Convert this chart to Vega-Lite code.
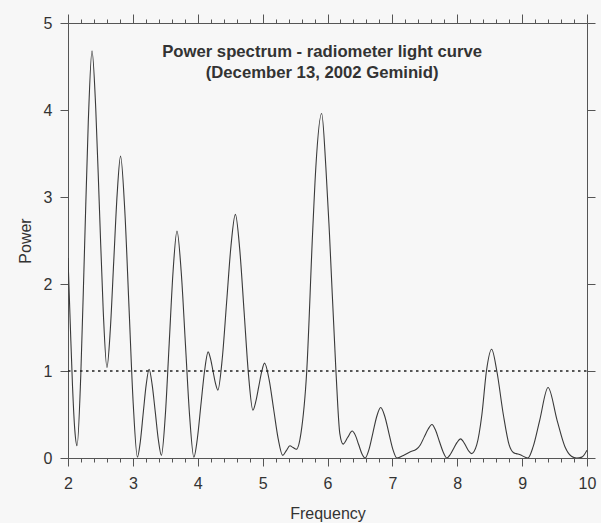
{
  "$schema": "https://vega.github.io/schema/vega-lite/v6.json",
  "width": 519,
  "height": 435,
  "padding": {"left": 17, "top": 13, "right": 5, "bottom": 5},
  "background": "#f7f7f7",
  "config": {"view": {"stroke": null}, "font": "Liberation Sans"},
  "layer": [
    {
      "data": {
        "values": [
          {"f": 2.00, "p": 2.30}, {"f": 2.035, "p": 1.54}, {"f": 2.07, "p": 0.82}, {"f": 2.105, "p": 0.32},
          {"f": 2.14, "p": 0.14}, {"f": 2.1975, "p": 0.96}, {"f": 2.255, "p": 2.41}, {"f": 2.3125, "p": 3.86},
          {"f": 2.37, "p": 4.68}, {"f": 2.4275, "p": 4.02}, {"f": 2.485, "p": 2.86}, {"f": 2.5425, "p": 1.70},
          {"f": 2.60, "p": 1.04}, {"f": 2.6525, "p": 1.48}, {"f": 2.705, "p": 2.26}, {"f": 2.7575, "p": 3.03},
          {"f": 2.81, "p": 3.47}, {"f": 2.875, "p": 2.85}, {"f": 2.94, "p": 1.74}, {"f": 3.005, "p": 0.63},
          {"f": 3.07, "p": 0.01}, {"f": 3.115, "p": 0.19}, {"f": 3.16, "p": 0.52}, {"f": 3.205, "p": 0.84},
          {"f": 3.25, "p": 1.02}, {"f": 3.2975, "p": 0.84}, {"f": 3.345, "p": 0.53}, {"f": 3.3925, "p": 0.21},
          {"f": 3.44, "p": 0.03}, {"f": 3.50, "p": 0.49}, {"f": 3.56, "p": 1.32}, {"f": 3.62, "p": 2.15},
          {"f": 3.68, "p": 2.61}, {"f": 3.745, "p": 2.14}, {"f": 3.81, "p": 1.31}, {"f": 3.875, "p": 0.48},
          {"f": 3.94, "p": 0.01}, {"f": 3.995, "p": 0.23}, {"f": 4.05, "p": 0.62}, {"f": 4.105, "p": 1.00},
          {"f": 4.16, "p": 1.22}, {"f": 4.1975, "p": 1.14}, {"f": 4.235, "p": 1.00}, {"f": 4.2725, "p": 0.86},
          {"f": 4.31, "p": 0.78}, {"f": 4.3775, "p": 1.14}, {"f": 4.445, "p": 1.79}, {"f": 4.5125, "p": 2.44},
          {"f": 4.58, "p": 2.80}, {"f": 4.6475, "p": 2.395}, {"f": 4.715, "p": 1.675}, {"f": 4.7825, "p": 0.955},
          {"f": 4.85, "p": 0.55}, {"f": 4.895, "p": 0.65}, {"f": 4.94, "p": 0.82}, {"f": 4.985, "p": 0.99},
          {"f": 5.03, "p": 1.09}, {"f": 5.10, "p": 0.90}, {"f": 5.17, "p": 0.56}, {"f": 5.24, "p": 0.22},
          {"f": 5.31, "p": 0.03}, {"f": 5.365, "p": 0.085}, {"f": 5.42, "p": 0.14}, {"f": 5.47, "p": 0.12},
          {"f": 5.52, "p": 0.10}, {"f": 5.59, "p": 0.28}, {"f": 5.68, "p": 1.00}, {"f": 5.77, "p": 2.58},
          {"f": 5.82, "p": 3.34}, {"f": 5.91, "p": 3.96}, {"f": 5.975, "p": 3.34}, {"f": 6.03, "p": 2.58},
          {"f": 6.13, "p": 1.00}, {"f": 6.19, "p": 0.28}, {"f": 6.24, "p": 0.16}, {"f": 6.31, "p": 0.235},
          {"f": 6.38, "p": 0.31}, {"f": 6.43, "p": 0.26}, {"f": 6.48, "p": 0.155}, {"f": 6.53, "p": 0.05},
          {"f": 6.58, "p": 0.00}, {"f": 6.64, "p": 0.10}, {"f": 6.70, "p": 0.29}, {"f": 6.76, "p": 0.48},
          {"f": 6.82, "p": 0.58}, {"f": 6.8825, "p": 0.48}, {"f": 6.945, "p": 0.29}, {"f": 7.0075, "p": 0.10},
          {"f": 7.07, "p": 0.00}, {"f": 7.17, "p": 0.03}, {"f": 7.27, "p": 0.07}, {"f": 7.37, "p": 0.10},
          {"f": 7.43, "p": 0.15}, {"f": 7.49, "p": 0.24}, {"f": 7.55, "p": 0.33}, {"f": 7.61, "p": 0.385},
          {"f": 7.6675, "p": 0.315}, {"f": 7.725, "p": 0.19}, {"f": 7.7825, "p": 0.07}, {"f": 7.84, "p": 0.00},
          {"f": 7.8925, "p": 0.04}, {"f": 7.945, "p": 0.11}, {"f": 7.9975, "p": 0.18}, {"f": 8.05, "p": 0.22},
          {"f": 8.0925, "p": 0.19}, {"f": 8.135, "p": 0.135}, {"f": 8.1775, "p": 0.08}, {"f": 8.22, "p": 0.05},
          {"f": 8.30, "p": 0.15}, {"f": 8.38, "p": 0.50}, {"f": 8.45, "p": 1.00}, {"f": 8.53, "p": 1.25},
          {"f": 8.61, "p": 1.00}, {"f": 8.71, "p": 0.50}, {"f": 8.80, "p": 0.15}, {"f": 8.87, "p": 0.06},
          {"f": 8.91, "p": 0.05}, {"f": 8.96, "p": 0.04}, {"f": 9.09, "p": 0.00}, {"f": 9.17, "p": 0.13},
          {"f": 9.27, "p": 0.43}, {"f": 9.40, "p": 0.81}, {"f": 9.54, "p": 0.43}, {"f": 9.66, "p": 0.13},
          {"f": 9.76, "p": 0.02}, {"f": 9.84, "p": 0.00}, {"f": 9.92, "p": 0.01}, {"f": 10.00, "p": 0.09}
        ]
      },
      "mark": {"type": "line", "interpolate": "monotone", "color": "#3a3a3a", "strokeWidth": 1.1, "clip": true},
      "encoding": {
        "x": {
          "field": "f", "type": "quantitative",
          "scale": {"domain": [2, 10], "nice": false, "zero": false},
          "axis": {
            "orient": "bottom",
            "values": [2, 2.2, 2.4, 2.6, 2.8, 3, 3.2, 3.4, 3.6, 3.8, 4, 4.2, 4.4, 4.6, 4.8, 5, 5.2, 5.4, 5.6, 5.8, 6, 6.2, 6.4, 6.6, 6.8, 7, 7.2, 7.4, 7.6, 7.8, 8, 8.2, 8.4, 8.6, 8.8, 9, 9.2, 9.4, 9.6, 9.8, 10],
            "labelExpr": "abs(datum.value - round(datum.value)) < 0.01 ? format(datum.value, 'd') : ''",
            "tickSize": {"condition": {"test": "abs(datum.value - round(datum.value)) < 0.01", "value": 8}, "value": 4},
            "grid": false,
            "labelOverlap": false,
            "labelFlush": false,
            "labelBound": false,
            "labelFontSize": 16,
            "labelFont": "Liberation Sans",
            "labelColor": "#333333",
            "labelPadding": 9,
            "domainColor": "#555555",
            "tickColor": "#555555",
            "title": "Frequency",
            "titleFontSize": 16,
            "titleFontWeight": "normal",
            "titleFont": "Liberation Sans",
            "titleColor": "#333333",
            "titlePadding": 14
          }
        },
        "y": {
          "field": "p", "type": "quantitative",
          "scale": {"domain": [0, 5], "nice": false, "zero": false},
          "axis": {
            "orient": "left",
            "values": [0, 1, 2, 3, 4, 5],
            "tickSize": 8,
            "grid": false,
            "labelFontSize": 16,
            "labelFont": "Liberation Sans",
            "labelColor": "#333333",
            "labelPadding": 8,
            "domainColor": "#555555",
            "tickColor": "#555555",
            "title": "Power",
            "titleFontSize": 16,
            "titleFontWeight": "normal",
            "titleFont": "Liberation Sans",
            "titleColor": "#333333",
            "titlePadding": 10
          }
        }
      }
    },
    {
      "data": {"values": [{}]},
      "mark": {"type": "rule", "color": "#222222", "strokeDash": [2.5, 3.5], "strokeWidth": 1.6},
      "encoding": {
        "x": {
          "datum": 2, "type": "quantitative",
          "scale": {"domain": [2, 10], "nice": false, "zero": false},
          "axis": {
            "orient": "top",
            "values": [2, 2.2, 2.4, 2.6, 2.8, 3, 3.2, 3.4, 3.6, 3.8, 4, 4.2, 4.4, 4.6, 4.8, 5, 5.2, 5.4, 5.6, 5.8, 6, 6.2, 6.4, 6.6, 6.8, 7, 7.2, 7.4, 7.6, 7.8, 8, 8.2, 8.4, 8.6, 8.8, 9, 9.2, 9.4, 9.6, 9.8, 10],
            "labels": false,
            "tickSize": {"condition": {"test": "abs(datum.value - round(datum.value)) < 0.01", "value": 9}, "value": 4},
            "grid": false,
            "domainColor": "#555555",
            "tickColor": "#555555",
            "title": null
          }
        },
        "x2": {"datum": 10},
        "y": {
          "datum": 1, "type": "quantitative",
          "scale": {"domain": [0, 5], "nice": false, "zero": false},
          "axis": {
            "orient": "right",
            "values": [0, 1, 2, 3, 4, 5],
            "labels": false,
            "tickSize": 8,
            "grid": false,
            "domainColor": "#555555",
            "tickColor": "#555555",
            "title": null
          }
        }
      }
    },
    {
      "data": {"values": [{}]},
      "mark": {
        "type": "text",
        "text": ["Power spectrum - radiometer light curve", "(December 13, 2002 Geminid)"],
        "align": "center",
        "baseline": "top",
        "fontSize": 16.7,
        "fontWeight": "bold",
        "lineHeight": 21,
        "font": "Liberation Sans",
        "color": "#333333"
      },
      "encoding": {
        "x": {"datum": 5.917, "type": "quantitative", "axis": null},
        "y": {"datum": 4.755, "type": "quantitative", "axis": null}
      }
    }
  ],
  "resolve": {"axis": {"x": "independent", "y": "independent"}}
}
